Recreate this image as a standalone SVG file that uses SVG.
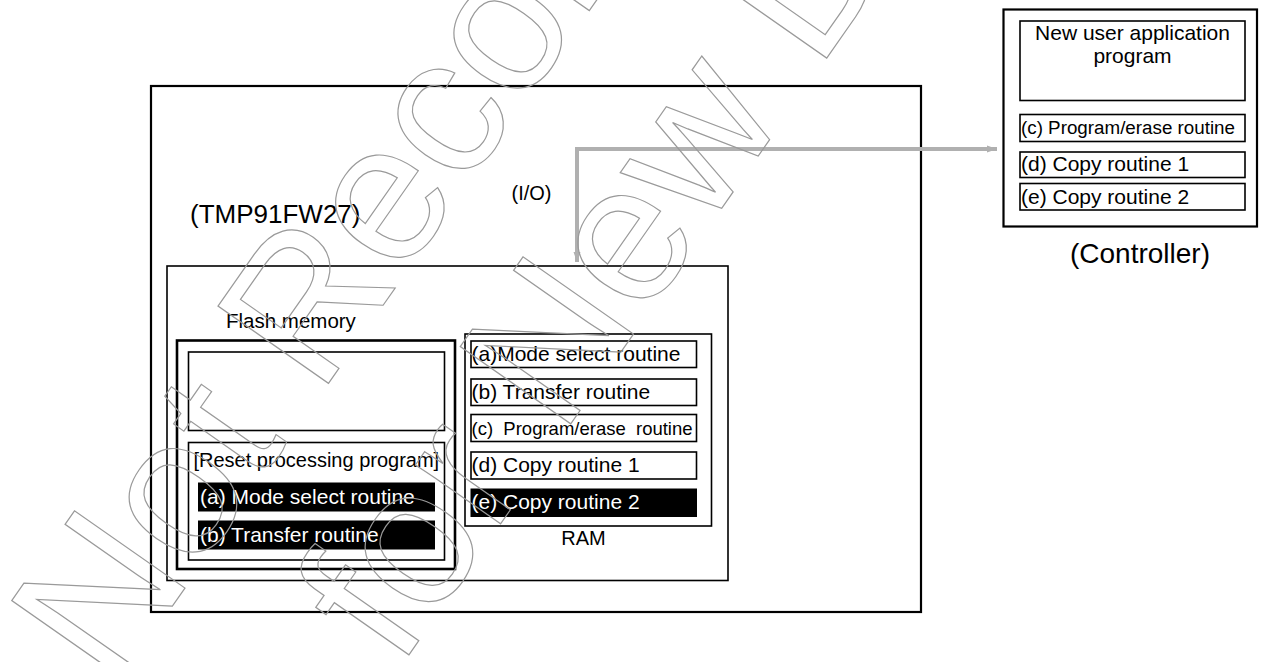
<svg xmlns="http://www.w3.org/2000/svg" width="1263" height="662" viewBox="0 0 1263 662">
<style>
text{font-family:"Liberation Sans",Arial,sans-serif;fill:#000;white-space:pre}
.box{fill:none;stroke:#000;stroke-width:1.6}
.thick{fill:none;stroke:#000;stroke-width:2.2}
.bar{fill:#000;stroke:#000;stroke-width:1}
.w{fill:#fff}
.f21{font-size:21px}
.f20{font-size:20px}
.wm{font-size:196px;fill:none;stroke:#9a9a9a;stroke-width:1.2}
</style>
<defs>
<marker id="ah" markerUnits="userSpaceOnUse" markerWidth="12" markerHeight="8" refX="10" refY="4" orient="auto-start-reverse">
<path d="M0,0.5 L10,4 L0,7.5 Z" fill="#b0b0b0"/>
</marker>
</defs>
<rect width="1263" height="662" fill="#fff"/>

<g id="chip">
<rect class="thick" x="151" y="86" width="770" height="526"/>
<text x="190" y="222.5" style="font-size:26px">(TMP91FW27)</text>
<text x="511.5" y="199.5" class="f20">(I/O)</text>
</g>

<g id="internal">
<rect class="box" x="167" y="266" width="561" height="314.5"/>
</g>

<g id="flash">
<text x="226" y="327.5" style="font-size:20.5px">Flash memory</text>
<rect x="177" y="340.5" width="278" height="228.5" fill="none" stroke="#000" stroke-width="2.6"/>
<rect class="box" x="188.5" y="352" width="256" height="78.5"/>
<rect class="box" x="188.5" y="442.5" width="256" height="117.5"/>
<text x="193.5" y="466.5" class="f20">[Reset processing program]</text>
<rect class="bar" x="198.5" y="483" width="236" height="28"/>
<text x="200" y="504" class="f21 w">(a) Mode select routine</text>
<rect class="bar" x="198.5" y="521" width="236" height="28"/>
<text x="200" y="541.5" class="f21 w">(b) Transfer routine</text>
</g>

<g id="ram">
<rect class="box" x="465" y="334" width="246.5" height="192"/>
<rect class="box" x="471" y="341" width="225.5" height="26.5"/>
<text x="471.5" y="360.5" class="f21">(a)Mode select routine</text>
<rect class="box" x="471" y="379" width="225.5" height="26.5"/>
<text x="471.5" y="398.5" class="f21">(b) Transfer routine</text>
<rect class="box" x="471" y="414.5" width="225.5" height="27"/>
<text x="471.5" y="435" style="font-size:18.5px">(c)  Program/erase  routine</text>
<rect class="box" x="471" y="452" width="225.5" height="27"/>
<text x="471.5" y="471.5" class="f21">(d) Copy routine 1</text>
<rect class="bar" x="471" y="489" width="225.5" height="27.5"/>
<text x="471.5" y="508.5" class="f21 w">(e) Copy routine 2</text>
<text x="583.5" y="545" class="f20" text-anchor="middle">RAM</text>
</g>

<g id="controller">
<rect class="thick" x="1003.5" y="9.5" width="253.5" height="217"/>
<rect class="box" x="1020" y="21" width="225" height="79.5"/>
<text x="1132.5" y="39.5" class="f21" text-anchor="middle">New user application</text>
<text x="1132.5" y="63" class="f21" text-anchor="middle">program</text>
<rect class="box" x="1020" y="114.5" width="225" height="27"/>
<text x="1021" y="133.5" style="font-size:18.8px">(c) Program/erase routine</text>
<rect class="box" x="1020" y="152" width="225" height="25.5"/>
<text x="1021" y="171" class="f21">(d) Copy routine 1</text>
<rect class="box" x="1020" y="183.5" width="225" height="26.5"/>
<text x="1021" y="203.5" class="f21">(e) Copy routine 2</text>
<text x="1140" y="263" text-anchor="middle" style="font-size:28px">(Controller)</text>
</g>

<g id="connectors">
<path d="M577,262 V149 H997" fill="none" stroke="#b0b0b0" stroke-width="4" marker-start="url(#ah)" marker-end="url(#ah)"/>
</g>

<g id="watermark">
<text class="wm" transform="translate(113,691) rotate(-55)">Not Recommended</text>
<text class="wm" transform="translate(399,669) rotate(-55)">for New Design</text>
</g>
</svg>
